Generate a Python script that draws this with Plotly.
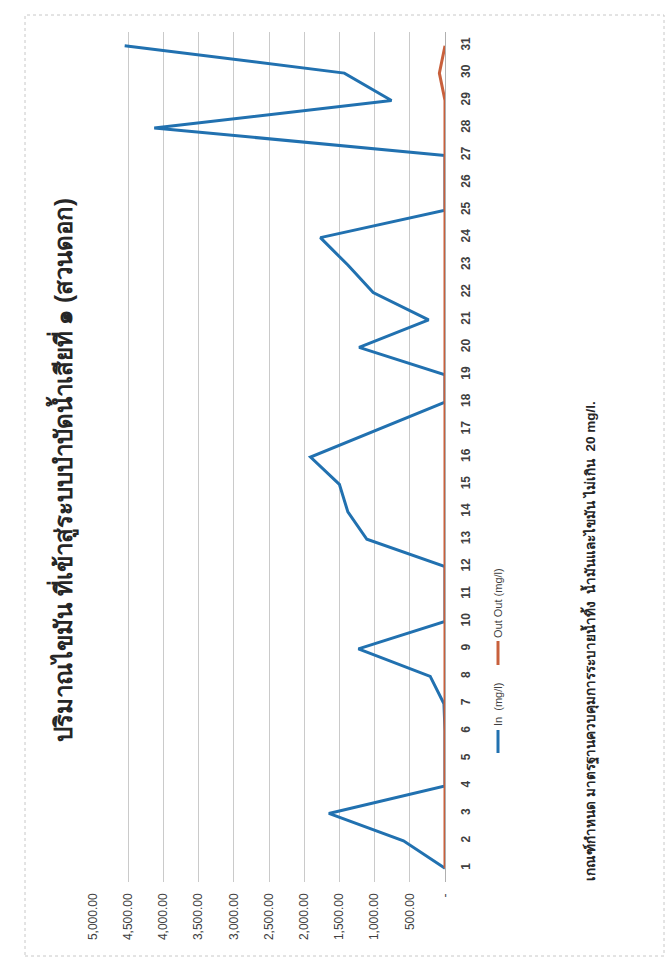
import plotly.graph_objects as go

days = list(range(1, 32))
in_values = [0, 590, 1650, 0, 0, 0, 15, 210, 1230, 0, 0, 0, 1110, 1380, 1500, 1910,
             None, 0, 0, 1220, 233, 1020, 1380, 1770, 0, 0, 0, 4130, 760, 1430, 4550]
out_values = [0, 0, 0, 0, 0, 0, 0, 0, 0, 0, 0, 0, 0, 0, 0, 0,
              0, 0, 0, 0, 0, 0, 0, 0, 0, 0, 0, 0, 0, 80, 0]
value_ticks = [0, 500, 1000, 1500, 2000, 2500, 3000, 3500, 4000, 4500, 5000]
value_tick_labels = ["-", "500.00", "1,000.00", "1,500.00", "2,000.00", "2,500.00",
                     "3,000.00", "3,500.00", "4,000.00", "4,500.00", "5,000.00"]
series_names = ["In  (mg/l)", "Out Out (mg/l)"]
title_text = "ปริมาณไขมัน ที่เข้าสู่ระบบบำบัดน้ำเสียที่ ๑ (สวนดอก)"
note_text = "เกณฑ์กำหนด มาตรฐานควบคุมการระบายน้ำทิ้ง  น้ำมันและไขมัน ไม่เกิน  20 mg/l."

W, H = 670, 970
BLUE = "#2171b0"
ORANGE = "#c8603c"
FONT = "Liberation Sans, Noto Sans, DejaVu Sans, sans-serif"

def px(x):
    return x / W

def py(y):
    return 1 - y / H

fig = go.Figure()
fig.add_trace(go.Scatter(x=in_values, y=days, mode="lines", name=series_names[0],
                         line=dict(color=BLUE, width=3), connectgaps=True))
fig.add_trace(go.Scatter(x=out_values, y=days, mode="lines", name=series_names[1],
                         line=dict(color=ORANGE, width=3)))

fig.update_layout(
    width=W, height=H,
    margin=dict(l=0, r=0, t=0, b=0),
    paper_bgcolor="white", plot_bgcolor="white",
    showlegend=False,
    font=dict(family=FONT, color="#404040"),
    xaxis=dict(
        domain=[px(93), px(445)], range=[5000, 0],
        tickvals=value_ticks, ticktext=value_tick_labels,
        tickangle=-90, tickfont=dict(size=12, color="#404040"),
        showgrid=True, gridcolor="#cacaca", gridwidth=1,
        zeroline=True, zerolinecolor="#b0b0b0", zerolinewidth=1,
        showline=False, ticks="", ticklabelstandoff=8, automargin=False,
        fixedrange=True,
    ),
    yaxis=dict(
        domain=[py(882), py(32)], range=[0.5, 31.5],
        tickvals=days, ticktext=[str(d) for d in days],
        side="right", tickangle=-90,
        tickfont=dict(size=12, color="#404040", family=FONT, weight="bold"),
        showgrid=False, zeroline=False, showline=False, ticks="",
        ticklabelstandoff=12, automargin=False, fixedrange=True,
    ),
)

# chart border
fig.add_shape(type="rect", xref="paper", yref="paper",
              x0=px(25), x1=px(664), y0=py(956), y1=py(15),
              line=dict(color="#c8c8c8", width=1, dash="dot"), layer="below")

# title (rotated)
fig.add_annotation(xref="paper", yref="paper", x=px(62), y=py(470),
                   text="<b>" + title_text + "</b>", textangle=-90, showarrow=False,
                   font=dict(size=24, color="#262626", family=FONT),
                   xanchor="center", yanchor="middle")

# legend (rotated)
fig.add_shape(type="line", xref="paper", yref="paper",
              x0=px(498), x1=px(498), y0=py(753), y1=py(730),
              line=dict(color=BLUE, width=3))
fig.add_annotation(xref="paper", yref="paper", x=px(498), y=py(705),
                   text=series_names[0], textangle=-90, showarrow=False,
                   font=dict(size=11, color="#404040", family=FONT),
                   xanchor="center", yanchor="middle")
fig.add_shape(type="line", xref="paper", yref="paper",
              x0=px(498), x1=px(498), y0=py(665), y1=py(641),
              line=dict(color=ORANGE, width=3))
fig.add_annotation(xref="paper", yref="paper", x=px(498), y=py(603),
                   text=series_names[1], textangle=-90, showarrow=False,
                   font=dict(size=11, color="#404040", family=FONT),
                   xanchor="center", yanchor="middle")

# footnote (rotated)
fig.add_annotation(xref="paper", yref="paper", x=px(590), y=py(641),
                   text="<b>" + note_text + "</b>", textangle=-90, showarrow=False,
                   font=dict(size=13.5, color="#262626", family=FONT),
                   xanchor="center", yanchor="middle")

fig.write_html("out.html", config={"displayModeBar": False},
               post_script="document.body.style.margin='0';")
